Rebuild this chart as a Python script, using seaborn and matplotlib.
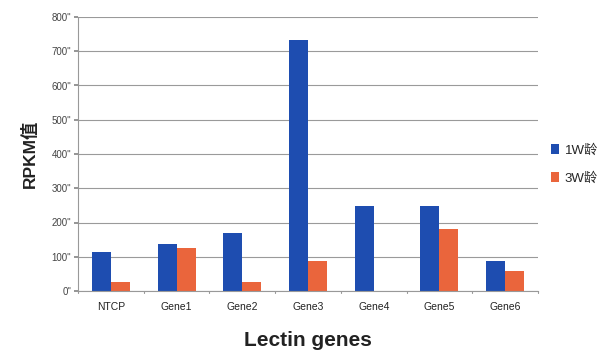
import matplotlib
matplotlib.use("Agg")
import matplotlib.pyplot as plt
import seaborn as sns
import pandas as pd
from matplotlib.patches import Patch

categories = ["NTCP", "Gene1", "Gene2", "Gene3", "Gene4", "Gene5", "Gene6"]
week1 = [113, 137, 170, 733, 248, 248, 89]
week3 = [26, 127, 26, 89, 0, 181, 58]
series_names = ["1W龄", "3W龄"]
ytick_vals = [0, 100, 200, 300, 400, 500, 600, 700, 800]
ytick_labels = [f'{v}"' for v in ytick_vals]

colors = ["#1E4DB0", "#EA653C"]

sns.set_theme(style="white")
plt.rcParams["font.family"] = ["Liberation Sans", "Noto Sans CJK SC", "DejaVu Sans"]

df = pd.DataFrame({
    "gene": categories * 2,
    "value": week1 + week3,
    "series": [series_names[0]] * len(categories) + [series_names[1]] * len(categories),
})

fig = plt.figure(figsize=(6.04, 3.53), dpi=100)
ax = fig.add_axes([78 / 604, 1 - 291 / 353, (538 - 78) / 604, (291 - 17) / 353])

sns.barplot(data=df, x="gene", y="value", hue="series", palette=colors,
            width=0.58, saturation=1, ax=ax, legend=False, edgecolor="none")

ax.set_xlim(-0.5, 6.5)
ax.set_ylim(0, 800)
ax.set_yticks(ytick_vals)
ax.set_yticklabels(ytick_labels, fontsize=7, color="#444444")
ax.tick_params(axis="x", labelsize=7.5, colors="#222222", length=0, pad=8)
ax.tick_params(axis="y", length=3, color="#888888", pad=2, left=True)
ax.yaxis.grid(True, color="#9a9a9a", linewidth=0.8)
ax.set_axisbelow(True)
for s in ["top", "right"]:
    ax.spines[s].set_visible(False)
ax.spines["left"].set_color("#999999")
ax.spines["bottom"].set_color("#999999")
ax.spines["left"].set_linewidth(0.8)
ax.spines["bottom"].set_linewidth(0.8)

# small tick marks at category boundaries on the x axis
for b in [i + 0.5 for i in range(-1, len(categories))]:
    ax.plot([b, b], [0, -6], color="#999999", linewidth=0.8, clip_on=False,
            transform=ax.transData)

ax.set_xlabel("Lectin genes", fontsize=15, fontweight="bold", color="#222222")
ax.xaxis.set_label_coords(0.5, -0.145)
ax.set_ylabel("RPKM值", fontsize=12.5, fontweight="bold", color="#222222")
ax.yaxis.set_label_coords(-0.087, 0.5)

handles = [Patch(facecolor=c, edgecolor="none") for c in colors]
fig.legend(handles, series_names, loc="upper left", bbox_to_anchor=(546 / 604, 1 - 139 / 353),
           frameon=False, fontsize=9.5, handlelength=0.55, handleheight=0.75,
           handletextpad=0.45, labelspacing=1.15, borderaxespad=0)

fig.savefig("out.png", dpi=100)
